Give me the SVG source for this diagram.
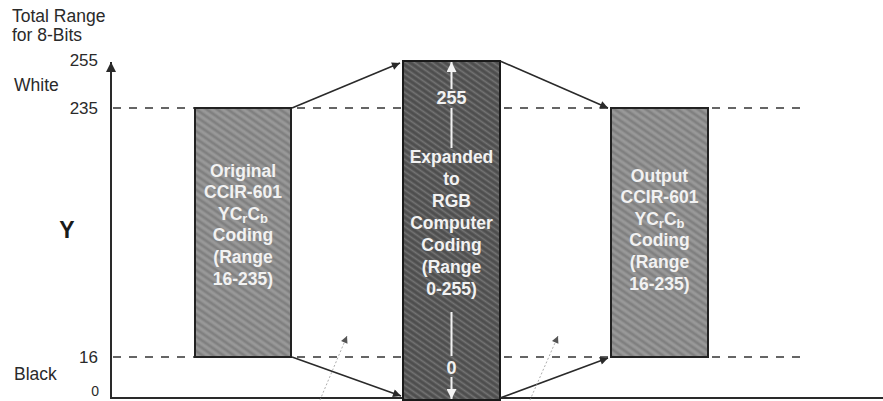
<svg xmlns="http://www.w3.org/2000/svg" width="883" height="401" viewBox="0 0 883 401">
  <style>
    .lbl { font-family: "Liberation Sans", Arial, sans-serif; font-size: 17.5px; fill: #2a2a2a; }
    .num { font-family: "Liberation Sans", Arial, sans-serif; font-size: 17px; fill: #2a2a2a; text-anchor: end; }
    .box-txt { font-family: "Liberation Sans", Arial, sans-serif; font-size: 17.5px; font-weight: bold; fill: #f2f2f2; text-anchor: middle; }
    .sub { font-size: 13px; }
    .dash { stroke: #333; stroke-width: 1.6; stroke-dasharray: 8 8; fill: none; }
    .conn { stroke: #2a2a2a; stroke-width: 1.6; fill: none; }
    .faint { stroke: #999; stroke-width: 0.8; fill: none; stroke-dasharray: 2 2; }
    .box-light { fill: url(#texLight); stroke: #222; stroke-width: 2; }
    .box-dark { fill: url(#texDark); stroke: #1a1a1a; stroke-width: 2; }
    .inner { stroke: #f4f4f4; stroke-width: 2; fill: none; }
  </style>
  <defs>
    <pattern id="texLight" width="6" height="6" patternUnits="userSpaceOnUse" patternTransform="rotate(35)">
      <rect width="6" height="6" fill="#8e8e8e"/>
      <line x1="0" y1="1" x2="6" y2="1" stroke="#727272" stroke-width="1"/>
      <line x1="0" y1="4" x2="6" y2="4" stroke="#a8a8a8" stroke-width="0.8"/>
    </pattern>
    <pattern id="texDark" width="5" height="5" patternUnits="userSpaceOnUse" patternTransform="rotate(35)">
      <rect width="5" height="5" fill="#5c5c5c"/>
      <line x1="0" y1="1" x2="5" y2="1" stroke="#404040" stroke-width="1"/>
      <line x1="0" y1="3.5" x2="5" y2="3.5" stroke="#7a7a7a" stroke-width="0.8"/>
    </pattern>
    <marker id="ah" viewBox="0 0 10 10" refX="10" refY="5" markerWidth="10" markerHeight="8" markerUnits="userSpaceOnUse" orient="auto">
      <path d="M0,0 L10,5 L0,10 Z" fill="#2a2a2a"/>
    </marker>
    <marker id="ahFaint" viewBox="0 0 10 10" refX="10" refY="5" markerWidth="8" markerHeight="7" markerUnits="userSpaceOnUse" orient="auto">
      <path d="M0,0 L10,5 L0,10 Z" fill="#555"/>
    </marker>
    <marker id="ahAxis" viewBox="0 0 10 10" refX="10" refY="5" markerWidth="13" markerHeight="10" markerUnits="userSpaceOnUse" orient="auto">
      <path d="M0,0 L10,5 L0,10 Z" fill="#2a2a2a"/>
    </marker>
    <marker id="ahWhite" viewBox="0 0 10 10" refX="10" refY="5" markerWidth="13" markerHeight="10" markerUnits="userSpaceOnUse" orient="auto">
      <path d="M0,0 L10,5 L0,10 Z" fill="#f4f4f4"/>
    </marker>
  </defs>

  <!-- Axis and level labels -->
  <g id="axis">
    <line x1="111" y1="398" x2="111" y2="62" stroke="#2a2a2a" stroke-width="2" marker-end="url(#ahAxis)"/>
    <line x1="110" y1="398" x2="883" y2="398" stroke="#2a2a2a" stroke-width="2"/>
    <text class="lbl" x="12" y="22">Total Range</text>
    <text class="lbl" x="12" y="41">for 8-Bits</text>
    <text class="num" x="98" y="66">255</text>
    <text class="lbl" x="14" y="91">White</text>
    <text class="num" x="98" y="114">235</text>
    <text class="num" x="98" y="363">16</text>
    <text class="lbl" x="14" y="380">Black</text>
    <text class="num" x="99" y="396" style="font-size:14px">0</text>
    <text x="67" y="238" text-anchor="middle" style="font-family: 'Liberation Sans', Arial, sans-serif; font-size: 23px; font-weight: bold; fill: #1a1a1a;">Y</text>
  </g>

  <!-- Dashed reference levels -->
  <g id="levels">
    <line class="dash" x1="113" y1="108" x2="195" y2="108"/>
    <line class="dash" x1="297" y1="108" x2="403" y2="108"/>
    <line class="dash" x1="504" y1="108" x2="611" y2="108"/>
    <line class="dash" x1="712" y1="108" x2="808" y2="108"/>
    <line class="dash" x1="113" y1="357" x2="195" y2="357"/>
    <line class="dash" x1="297" y1="357" x2="403" y2="357"/>
    <line class="dash" x1="504" y1="357" x2="611" y2="357"/>
    <line class="dash" x1="712" y1="357" x2="808" y2="357"/>
  </g>

  <!-- Original box -->
  <g id="original">
    <rect class="box-light" x="195" y="108" width="96" height="249"/>
    <text class="box-txt" x="243" y="177">Original</text>
    <text class="box-txt" x="243" y="198">CCIR-601</text>
    <text class="box-txt" x="243" y="220">YC<tspan class="sub" dy="3">r</tspan><tspan dy="-3">C</tspan><tspan class="sub" dy="3">b</tspan></text>
    <text class="box-txt" x="243" y="241">Coding</text>
    <text class="box-txt" x="243" y="263">(Range</text>
    <text class="box-txt" x="243" y="285">16-235)</text>
  </g>

  <!-- Expanded box -->
  <g id="expanded">
    <rect class="box-dark" x="403" y="61" width="97" height="339"/>
    <line x1="451.5" y1="89" x2="451.5" y2="62" stroke="#f4f4f4" stroke-width="2" marker-end="url(#ahWhite)"/>
    <text class="box-txt" x="451.5" y="104" style="font-size:18px">255</text>
    <line class="inner" x1="451.5" y1="108" x2="451.5" y2="148"/>
    <text class="box-txt" x="451.5" y="163">Expanded</text>
    <text class="box-txt" x="451.5" y="185">to</text>
    <text class="box-txt" x="451.5" y="207">RGB</text>
    <text class="box-txt" x="451.5" y="229">Computer</text>
    <text class="box-txt" x="451.5" y="251">Coding</text>
    <text class="box-txt" x="451.5" y="273">(Range</text>
    <text class="box-txt" x="451.5" y="295">0-255)</text>
    <line class="inner" x1="451.5" y1="312" x2="451.5" y2="356"/>
    <text class="box-txt" x="451.5" y="374" style="font-size:18px">0</text>
    <line x1="451.5" y1="377" x2="451.5" y2="399" stroke="#f4f4f4" stroke-width="2" marker-end="url(#ahWhite)"/>
  </g>

  <!-- Output box -->
  <g id="output">
    <rect class="box-light" x="611" y="108" width="97" height="249"/>
    <text class="box-txt" x="659.5" y="182">Output</text>
    <text class="box-txt" x="659.5" y="203">CCIR-601</text>
    <text class="box-txt" x="659.5" y="225">YC<tspan class="sub" dy="3">r</tspan><tspan dy="-3">C</tspan><tspan class="sub" dy="3">b</tspan></text>
    <text class="box-txt" x="659.5" y="246">Coding</text>
    <text class="box-txt" x="659.5" y="268">(Range</text>
    <text class="box-txt" x="659.5" y="290">16-235)</text>
  </g>

  <!-- Connectors -->
  <g id="connectors">
    <line class="conn" x1="292" y1="108" x2="400" y2="63" marker-end="url(#ah)"/>
    <line class="conn" x1="500" y1="61" x2="608" y2="108" marker-end="url(#ah)"/>
    <line class="conn" x1="292" y1="357" x2="401" y2="396" marker-end="url(#ah)"/>
    <line class="conn" x1="500" y1="398" x2="608" y2="358" marker-end="url(#ah)"/>
    <line class="faint" x1="320" y1="400" x2="347" y2="336" marker-end="url(#ahFaint)"/>
    <line class="faint" x1="530" y1="400" x2="558" y2="336" marker-end="url(#ahFaint)"/>
  </g>
</svg>
